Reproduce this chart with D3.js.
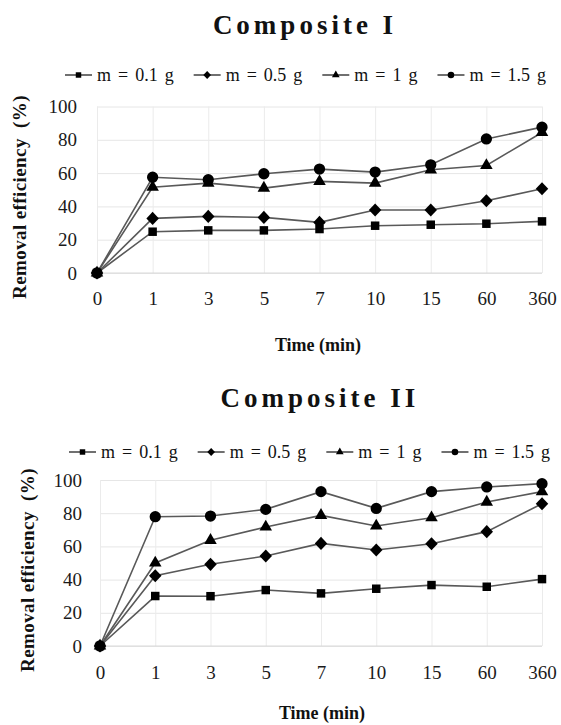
<!DOCTYPE html>
<html>
<head>
<meta charset="utf-8">
<script src="https://cdn.jsdelivr.net/npm/d3@7/dist/d3.min.js"></script>
<style>
  body { margin: 0; background: #fff; }
  svg text { font-family: "Liberation Serif", "Times New Roman", serif; }
</style>
</head>
<body>
<div id="chart"></div>
<script>
// Data
var times = ["0", "1", "3", "5", "7", "10", "15", "60", "360"];
var masses = ["m = 0.1 g", "m = 0.5 g", "m = 1 g", "m = 1.5 g"];
var yTicks = [0, 20, 40, 60, 80, 100];

// Composite I
var comp1_01 = [0, 24.8, 25.6, 25.6, 26.4, 28.4, 29, 29.6, 31];
var comp1_05 = [0, 32.8, 34, 33.4, 30.4, 37.8, 37.8, 43.4, 50.6];
var comp1_1 = [0, 51.5, 54, 51, 55, 54, 62, 64.6, 84.4];
var comp1_15 = [0, 57.5, 56, 59.6, 62.4, 60.6, 65, 80.5, 87.6];

// Composite II
var comp2_01 = [0, 30.1, 30, 33.7, 31.7, 34.5, 36.7, 35.7, 40.3];
var comp2_05 = [0, 42.3, 49.2, 54.2, 61.8, 57.8, 61.6, 68.9, 85.7];
var comp2_1 = [0, 50, 63.7, 71.7, 78.7, 72.3, 77.3, 86.7, 93];
var comp2_15 = [0, 77.9, 78.3, 82.3, 93, 82.9, 93, 95.8, 97.8];

var FONT = "Liberation Serif";

var width = 561,
    height = 725;

var svg = d3.select("#chart")
            .append("svg")
              .attr("width", width)
              .attr("height", height);

// Diamond made as a square turned 45 degrees
var symbolRhomb = {
  draw: function(context, size) {
    var r = Math.sqrt(size / 2);
    context.moveTo(0, -r * 1.05);
    context.lineTo(r, 0);
    context.lineTo(0, r * 1.05);
    context.lineTo(-r, 0);
    context.closePath();
  }
};

var symbols = [d3.symbolSquare, symbolRhomb, d3.symbolTriangle, d3.symbolCircle];
var sizes = [72, 78, 68, 100];
var legendSizes = [30, 30, 26, 34];

drawChart({
  title: "Composite I",
  titleX: 305, titleY: 34,
  legendY: 75, legendX: 65,
  left: 97, right: 542, top: 106.5, bottom: 273,
  tickRight: 77, xTickY: 305,
  xTitleX: 318, xTitleY: 351,
  yTitleX: 19, yTitleY: 197,
  series: [comp1_01, comp1_05, comp1_1, comp1_15]
});

drawChart({
  title: "Composite II",
  titleX: 320, titleY: 407,
  legendY: 452, legendX: 69,
  left: 100, right: 542, top: 480, bottom: 646,
  tickRight: 82, xTickY: 679,
  xTitleX: 322, xTitleY: 719,
  yTitleX: 27, yTitleY: 570,
  series: [comp2_01, comp2_05, comp2_1, comp2_15]
});

function drawChart(o) {

  var g = svg.append("g");

  // Scales
  var x = d3.scalePoint()
            .domain(times)
            .range([o.left, o.right]);

  var y = d3.scaleLinear()
            .domain([0, 100])
            .range([o.bottom, o.top]);

  // Horizontal gridlines and y labels
  var yAxis = g.append("g")
    .attr("transform", "translate(" + o.left + ",0)")
    .call(d3.axisLeft(y)
            .tickValues(yTicks)
            .tickSize(-(o.right - o.left))
            .tickPadding(o.left - o.tickRight));
  yAxis.select(".domain").remove();
  yAxis.selectAll("line").attr("stroke", "#e6e6e6").attr("stroke-width", 1);
  yAxis.selectAll("text")
       .style("font-family", FONT)
       .style("font-size", "19px")
       .attr("fill", "#1a1a1a");

  // Vertical gridlines and x labels
  var xAxis = g.append("g")
    .attr("transform", "translate(0," + o.bottom + ")")
    .call(d3.axisBottom(x)
            .tickSize(-(o.bottom - o.top))
            .tickPadding(0));
  xAxis.select(".domain").remove();
  xAxis.selectAll("line").attr("stroke", "#ebebeb").attr("stroke-width", 1);
  xAxis.selectAll("text")
       .attr("y", o.xTickY - o.bottom)
       .attr("dy", null)
       .style("font-family", FONT)
       .style("font-size", "19px")
       .attr("fill", "#1a1a1a");

  // Slightly darker baseline
  g.append("line")
    .attr("x1", o.left).attr("x2", o.right)
    .attr("y1", y(0)).attr("y2", y(0))
    .attr("stroke", "#d9d9d9");

  // Lines
  var line = d3.line()
               .x(function(d, i) { return x(times[i]); })
               .y(function(d) { return y(d); });

  g.selectAll(".series")
    .data(o.series)
    .enter()
    .append("path")
      .attr("d", line)
      .attr("fill", "none")
      .attr("stroke", "#595959")
      .attr("stroke-width", 1.6);

  // Markers
  o.series.forEach(function(s, k) {
    g.selectAll(".m" + k)
      .data(s)
      .enter()
      .append("path")
        .attr("d", d3.symbol().type(symbols[k]).size(sizes[k]))
        .attr("transform", function(d, i) { return "translate(" + x(times[i]) + "," + y(d) + ")"; })
        .attr("fill", "#000");
  });

  // Title
  g.append("text")
    .attr("x", o.titleX)
    .attr("y", o.titleY)
    .attr("text-anchor", "middle")
    .style("font-family", FONT)
    .style("font-size", "27px")
    .style("font-weight", "bold")
    .style("letter-spacing", "4px")
    .attr("fill", "#111")
    .text(o.title);

  // Axis titles
  g.append("text")
    .attr("x", o.xTitleX)
    .attr("y", o.xTitleY)
    .attr("text-anchor", "middle")
    .style("font-family", FONT)
    .style("font-size", "18px")
    .style("font-weight", "bold")
    .attr("fill", "#111")
    .text("Time (min)");

  g.append("text")
    .attr("transform", "translate(" + o.yTitleX + "," + o.yTitleY + ") rotate(-90)")
    .attr("text-anchor", "middle")
    .attr("dy", "0.35em")
    .style("font-family", FONT)
    .style("font-size", "19px")
    .style("font-weight", "bold")
    .style("letter-spacing", "0.4px")
    .style("white-space", "pre")
    .attr("fill", "#111")
    .text("Removal efficiency  (%)");

  // Legend
  var lx = o.legendX;
  masses.forEach(function(name, k) {
    var item = g.append("g").attr("transform", "translate(" + lx + "," + o.legendY + ")");
    item.append("line")
      .attr("x1", 0).attr("x2", 27)
      .attr("stroke", "#333")
      .attr("stroke-width", 1.4);
    item.append("path")
      .attr("d", d3.symbol().type(symbols[k]).size(legendSizes[k]))
      .attr("transform", "translate(13.5,0)")
      .attr("fill", "#000");
    var t = item.append("text")
      .attr("x", 32)
      .attr("dy", "0.33em")
      .style("font-family", FONT)
      .style("font-size", "18px")
      .style("word-spacing", "2.5px")
      .attr("fill", "#111")
      .text(name);
    lx += 32 + t.node().getComputedTextLength() + 20;
  });
}
</script>
</body>
</html>
